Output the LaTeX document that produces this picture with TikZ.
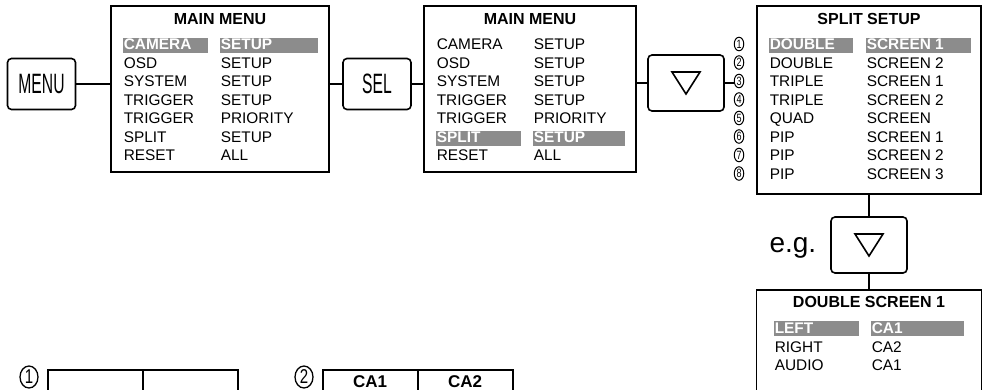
\documentclass[tikz,border=0pt]{standalone}
\usepackage{fontspec}
\setmainfont{Liberation Sans}
\usepackage{graphicx}
\usetikzlibrary{positioning, calc, shapes.geometric}

\newcommand{\keylabel}[1]{\scalebox{0.56}[1]{\fontsize{28}{28}\selectfont #1}}
\newcommand{\narrow}[1]{\scalebox{0.75}[1]{#1}}

\begin{document}
\begin{tikzpicture}[x=1pt, y=-1pt, line width=1.6pt,
    box/.style={draw, rectangle, inner sep=0pt},
    key/.style={draw, rectangle, rounded corners=4pt, inner sep=0pt, minimum width=68pt, minimum height=51pt},
    title/.style={inner sep=0pt, font=\fontsize{16}{16}\selectfont\bfseries},
    row/.style={inner sep=0pt, anchor=base west, font=\fontsize{15.4}{15.4}\selectfont},
    hlrow/.style={row, text=white, font=\fontsize{15.4}{15.4}\selectfont\bfseries},
    hl/.style={fill=black!45, draw=none},
    circ/.style={draw, ellipse, line width=1pt, inner sep=0pt, minimum width=9.5pt, minimum height=13.5pt,
        font=\fontsize{12}{12}\selectfont},
    bigcirc/.style={draw, ellipse, line width=1.3pt, inner sep=0pt, minimum width=18pt, minimum height=22pt,
        font=\fontsize{20}{20}\selectfont}]
    \useasboundingbox (0,0) rectangle (985,389);

    % Keys and menu boxes
    \node[key] (menukey) at (41.5,84) {\keylabel{MENU}};
    \node[box, minimum width=218pt, minimum height=166pt] (menu1) at (220,89) {};
    \node[key] (selkey) at (377,84) {\keylabel{SEL}};
    \node[box, minimum width=212pt, minimum height=166pt] (menu2) at (530,89) {};
    \node[key, minimum width=76pt, minimum height=56pt] (trikey1) at (686,83) {};
    \node[box, minimum width=224pt, minimum height=188pt] (split) at (869,100) {};
    \node[key, minimum width=76pt, minimum height=56pt] (trikey2) at (869,245) {};
    \node[box, minimum width=225pt, minimum height=120pt, anchor=north] (dscreen) at (869,289) {};

    % Triangles
    \draw[line join=miter] ([shift={(-14,-11)}]trikey1.center) -- ++(28,0) -- ++(-14,22) -- cycle;
    \draw[line join=miter] ([shift={(-14,-11)}]trikey2.center) -- ++(28,0) -- ++(-14,22) -- cycle;
    \node[inner sep=0pt, anchor=base east, font=\fontsize{28}{28}\selectfont] (eg) at (817,252) {e.g.};

    % Titles
    \node[title, below=7pt of menu1.north] (t1) {MAIN MENU};
    \node[title, below=7pt of menu2.north] (t2) {MAIN MENU};
    \node[title, below=7pt of split.north] (t3) {SPLIT SETUP};
    \node[title, below=7pt of dscreen.north] (t4) {DOUBLE SCREEN 1};

    % Highlight bars
    \fill[hl] (123,38) rectangle (208,53);
    \fill[hl] (220,38) rectangle (318,53);
    \fill[hl] (436,130.5) rectangle (521,145.5);
    \fill[hl] (533,130.5) rectangle (625,145.5);
    \fill[hl] (769,38) rectangle (853,53);
    \fill[hl] (866,38) rectangle (971,53);
    \fill[hl] (774,321) rectangle (859,336);
    \fill[hl] (871,321) rectangle (964,336);

    % Menu rows
    \foreach \s/\a/\b [count=\i from 0] in {hlrow/CAMERA/SETUP, row/OSD/SETUP, row/SYSTEM/SETUP,
        row/TRIGGER/SETUP, row/TRIGGER/PRIORITY, row/SPLIT/SETUP, row/RESET/ALL} {
        \node[\s] (ma\i) at (123,{49.6+18.5*\i}) {\a};
        \node[\s] (mb\i) at (220,{49.6+18.5*\i}) {\b};
    }
    \foreach \s/\a/\b [count=\i from 0] in {row/CAMERA/SETUP, row/OSD/SETUP, row/SYSTEM/SETUP,
        row/TRIGGER/SETUP, row/TRIGGER/PRIORITY, hlrow/SPLIT/SETUP, row/RESET/ALL} {
        \node[\s] (na\i) at (436,{49.6+18.5*\i}) {\a};
        \node[\s] (nb\i) at (533,{49.6+18.5*\i}) {\b};
    }
    \foreach \s/\a/\b [count=\i from 0] in {hlrow/DOUBLE/SCREEN 1, row/DOUBLE/SCREEN 2, row/TRIPLE/SCREEN 1,
        row/TRIPLE/SCREEN 2, row/QUAD/SCREEN, row/PIP/SCREEN 1, row/PIP/SCREEN 2, row/PIP/SCREEN 3} {
        \node[\s] (sa\i) at (769,{49.6+18.5*\i}) {\a};
        \node[\s] (sb\i) at (866,{49.6+18.5*\i}) {\b};
    }
    \foreach \i in {1,...,8} {
        \node[circ] (num\i) at (739,{44+18.5*(\i-1)}) {\narrow{\i}};
    }
    \foreach \s/\a/\b [count=\i from 0] in {hlrow/LEFT/CA1, row/RIGHT/CA2, row/AUDIO/CA1} {
        \node[\s] (da\i) at (774,{333.6+18.5*\i}) {\a};
        \node[\s] (db\i) at (871,{333.6+18.5*\i}) {\b};
    }

    % Screen layouts (bottom)
    \node[box, minimum width=190pt, minimum height=60pt, anchor=north west] (scr1) at (47,369) {};
    \node[box, minimum width=190pt, minimum height=60pt, anchor=north west] (scr2) at (322,369) {};
    \draw (scr1.north) -- (scr1.south);
    \draw (scr2.north) -- (scr2.south);
    \node[bigcirc] (c1) at (29,377) {\narrow{1}};
    \node[bigcirc] (c2) at (304,377) {\narrow{2}};
    \node[inner sep=0pt, anchor=base, font=\fontsize{17}{17}\selectfont\bfseries] (ca1) at (370,387) {CA1};
    \node[inner sep=0pt, anchor=base, font=\fontsize{17}{17}\selectfont\bfseries] (ca2) at (465,387) {CA2};

    % Connections
    \draw (menukey.east) -- (menukey.east -| menu1.west);
    \draw (menu1.east |- selkey.west) -- (selkey.west);
    \draw (selkey.east) -- (selkey.east -| menu2.west);
    \draw (menu2.east |- trikey1.west) -- (trikey1.west);
    \draw (trikey1.east) -- (trikey1.east -| num3.west);
    \draw (split.south -| trikey2.north) -- (trikey2.north);
    \draw (trikey2.south) -- (trikey2.south |- dscreen.north);
\end{tikzpicture}
\end{document}
